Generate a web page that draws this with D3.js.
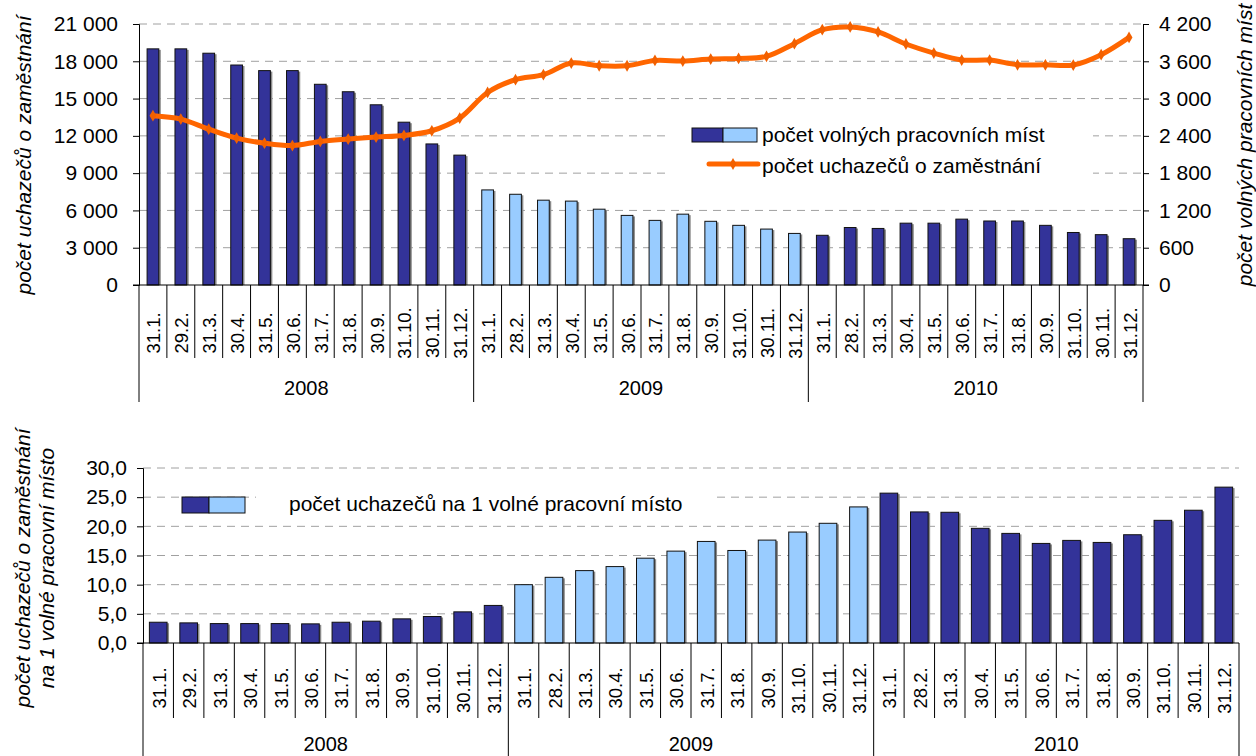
<!doctype html><html><head><meta charset="utf-8">
<style>body{margin:0;background:#fff} text{font-family:"Liberation Sans",Arial,sans-serif;fill:#000}</style>
</head><body><script src='https://d3js.org/d3.v7.min.js'></script>

<script>
// data
const years  = ["2008", "2009", "2010"];
const days08 = ["31.1.","29.2.","31.3.","30.4.","31.5.","30.6.","31.7.","31.8.","30.9.","31.10.","30.11.","31.12."];
const days   = ["31.1.","28.2.","31.3.","30.4.","31.5.","30.6.","31.7.","31.8.","30.9.","31.10.","30.11.","31.12."];

// počet volných pracovních míst (right axis)
const vacancies = [3800, 3800, 3730, 3540, 3450, 3450, 3230, 3110, 2900, 2620, 2270, 2090,
                   1530, 1460, 1365, 1350, 1220, 1120, 1040, 1140, 1025, 960, 900, 830,
                   800, 925, 910, 995, 995, 1060, 1030, 1030, 960, 845, 810, 745];
// počet uchazečů o zaměstnání (left axis)
const seekers   = [13620, 13350, 12540, 11820, 11410, 11220, 11550, 11740, 11900, 12030, 12410, 13430,
                   15490, 16520, 16920, 17860, 17640, 17640, 18070, 18020, 18180, 18230, 18400, 19420,
                   20540, 20760, 20360, 19390, 18660, 18100, 18100, 17720, 17720, 17700, 18530, 19920];
// počet uchazečů na 1 volné pracovní místo
const ratio     = [3.56, 3.45, 3.33, 3.33, 3.33, 3.28, 3.56, 3.74, 4.14, 4.54, 5.34, 6.44,
                   10.0, 11.26, 12.41, 13.1, 14.54, 15.75, 17.41, 15.86, 17.64, 19.02, 20.52, 23.33,
                   25.69, 22.47, 22.41, 19.66, 18.79, 17.07, 17.59, 17.24, 18.56, 21.03, 22.76, 26.72];

const leftTicks  = [0, 3000, 6000, 9000, 12000, 15000, 18000, 21000];
const rightTicks = [0, 600, 1200, 1800, 2400, 3000, 3600, 4200];
const ratioTicks = [0, 5, 10, 15, 20, 25, 30];

const labels = days08.concat(days, days);
const idx = d3.range(labels.length);

const dark = "#333399", light = "#99ccff", orange = "#ff6600";
const barColor = i => (i >= 12 && i < 24) ? light : dark;
const fs = 21;

const cz = d3.formatLocale({decimal: ",", thousands: "\u00a0", grouping: [3], currency: ["", ""]});
const fmtInt = cz.format(",");
const fmtDec = cz.format(",.1f");

const svg = d3.select("body").append("svg")
              .attr("width", 1256).attr("height", 756);

// ---------- top chart ----------
const x1 = d3.scaleBand().domain(idx).range([139, 1143]).paddingInner(0.58).paddingOuter(0.29);
const yL = d3.scaleLinear().domain([0, 21000]).range([285, 24]);
const yR = d3.scaleLinear().domain([0, 4200]).range([285, 24]);
const step1 = x1.step();

// grid
svg.append("g").selectAll("line").data(leftTicks.slice(1)).join("line")
   .attr("x1", 139).attr("x2", 1143)
   .attr("y1", d => yL(d)).attr("y2", d => yL(d))
   .attr("stroke", "#a0a0a0").attr("stroke-dasharray", "8,6");

// legend background hides grid
svg.append("rect").attr("x", 665).attr("y", 115).attr("width", 428).attr("height", 76).attr("fill", "#fff");

// bars
svg.append("g").selectAll("rect").data(idx).join("rect")
   .attr("x", i => x1(i) + 2).attr("y", i => yR(vacancies[i]) + 1)
   .attr("width", x1.bandwidth()).attr("height", i => yR(0) - yR(vacancies[i]) - 1)
   .attr("fill", "#8a8a8a");
svg.append("g").selectAll("rect").data(idx).join("rect")
   .attr("x", i => x1(i)).attr("y", i => yR(vacancies[i]))
   .attr("width", x1.bandwidth()).attr("height", i => yR(0) - yR(vacancies[i]))
   .attr("fill", i => barColor(i)).attr("stroke", "#111").attr("stroke-width", 1);

// line
const line = d3.line()
               .x(i => x1(i) + x1.bandwidth() / 2)
               .y(i => yL(seekers[i]))
               .curve(d3.curveCatmullRom.alpha(0.5));
svg.append("path").datum(idx)
   .attr("fill", "none").attr("stroke", orange).attr("stroke-width", 5)
   .attr("stroke-linejoin", "round").attr("d", line);
svg.append("g").selectAll("path").data(idx).join("path")
   .attr("transform", i => `translate(${x1(i) + x1.bandwidth() / 2},${yL(seekers[i])})`)
   .attr("d", d3.symbol(d3.symbolDiamond, 40)).attr("fill", "#f26000");

// axes
const axL = svg.append("g").attr("transform", "translate(139,0)")
   .call(d3.axisLeft(yL).tickValues(leftTicks).tickFormat(fmtInt).tickSizeOuter(0).tickSize(6).tickPadding(15));
const axR = svg.append("g").attr("transform", "translate(1143,0)")
   .call(d3.axisRight(yR).tickValues(rightTicks).tickFormat(fmtInt).tickSizeOuter(0).tickSize(6).tickPadding(10));
[axL, axR].forEach(a => {
  a.selectAll("text").attr("font-size", fs).attr("font-family", "Liberation Sans, Arial");
  a.selectAll("line, path").attr("stroke", "#000");
});

// category axis
svg.append("line").attr("x1", 133).attr("x2", 1149).attr("y1", 285).attr("y2", 285).attr("stroke", "#000");
svg.append("g").selectAll("line").data(d3.range(labels.length + 1)).join("line")
   .attr("x1", k => x1.range()[0] + k * step1).attr("x2", k => x1.range()[0] + k * step1)
   .attr("y1", 285).attr("y2", k => k % 12 === 0 ? 402 : 358)
   .attr("stroke", "#000");
svg.append("g").selectAll("text").data(idx).join("text")
   .attr("transform", i => `translate(${x1(i) + x1.bandwidth() / 2 + 1},333) rotate(-90)`)
   .attr("text-anchor", "middle").attr("dominant-baseline", "central")
   .attr("font-size", 18.5).text(i => labels[i]);
svg.append("g").selectAll("text").data(years).join("text")
   .attr("x", (d, j) => x1.range()[0] + (j * 12 + 6) * step1).attr("y", 395)
   .attr("text-anchor", "middle").attr("font-size", 20).text(d => d);

// axis titles
svg.append("text").attr("transform", "translate(31,155) rotate(-90)")
   .attr("text-anchor", "middle").attr("font-size", fs).attr("font-style", "italic")
   .text("počet uchazečů o zaměstnání");
svg.append("text").attr("transform", "translate(1252,145) rotate(-90)")
   .attr("text-anchor", "middle").attr("font-size", fs).attr("font-style", "italic")
   .text("počet volných pracovních míst");

// legend
svg.append("rect").attr("x", 692).attr("y", 128).attr("width", 31).attr("height", 14).attr("fill", dark).attr("stroke", "#111");
svg.append("rect").attr("x", 723).attr("y", 128).attr("width", 34).attr("height", 14).attr("fill", light).attr("stroke", "#111");
svg.append("text").attr("x", 762).attr("y", 142).attr("font-size", fs).text("počet volných pracovních míst");
svg.append("line").attr("x1", 709).attr("x2", 758).attr("y1", 164).attr("y2", 164)
   .attr("stroke", orange).attr("stroke-width", 5).attr("stroke-linecap", "round");
svg.append("path").attr("transform", "translate(733,164)").attr("d", d3.symbol(d3.symbolDiamond, 40)).attr("fill", "#f26000");
svg.append("text").attr("x", 762).attr("y", 173).attr("font-size", fs).text("počet uchazečů o zaměstnání");

// ---------- bottom chart ----------
const x2 = d3.scaleBand().domain(idx).range([143, 1239]).paddingInner(0.42).paddingOuter(0.21);
const y2 = d3.scaleLinear().domain([0, 30]).range([643, 468]);
const step2 = x2.step();

svg.append("g").selectAll("line").data(ratioTicks.slice(1)).join("line")
   .attr("x1", 143).attr("x2", 1239)
   .attr("y1", d => y2(d)).attr("y2", d => y2(d))
   .attr("stroke", "#a0a0a0").attr("stroke-dasharray", "8,6");

svg.append("rect").attr("x", 256).attr("y", 490).attr("width", 459).attr("height", 30).attr("fill", "#fff");

svg.append("g").selectAll("rect").data(idx).join("rect")
   .attr("x", i => x2(i) + 2).attr("y", i => y2(ratio[i]) + 1)
   .attr("width", x2.bandwidth()).attr("height", i => y2(0) - y2(ratio[i]) - 1)
   .attr("fill", "#8a8a8a");
svg.append("g").selectAll("rect").data(idx).join("rect")
   .attr("x", i => x2(i)).attr("y", i => y2(ratio[i]))
   .attr("width", x2.bandwidth()).attr("height", i => y2(0) - y2(ratio[i]))
   .attr("fill", i => barColor(i)).attr("stroke", "#111").attr("stroke-width", 1);

const axB = svg.append("g").attr("transform", "translate(143,0)")
   .call(d3.axisLeft(y2).tickValues(ratioTicks).tickFormat(fmtDec).tickSizeOuter(0).tickSize(6).tickPadding(10));
axB.selectAll("text").attr("font-size", fs).attr("font-family", "Liberation Sans, Arial");
axB.selectAll("line, path").attr("stroke", "#000");

svg.append("line").attr("x1", 137).attr("x2", 1239).attr("y1", 643).attr("y2", 643).attr("stroke", "#000");
svg.append("g").selectAll("line").data(d3.range(labels.length + 1)).join("line")
   .attr("x1", k => x2.range()[0] + k * step2).attr("x2", k => x2.range()[0] + k * step2)
   .attr("y1", 643).attr("y2", k => k % 12 === 0 ? 760 : 718)
   .attr("stroke", "#000");
svg.append("g").selectAll("text").data(idx).join("text")
   .attr("transform", i => `translate(${x2(i) + x2.bandwidth() / 2 + 1},688) rotate(-90)`)
   .attr("text-anchor", "middle").attr("dominant-baseline", "central")
   .attr("font-size", 18.5).text(i => labels[i]);
svg.append("g").selectAll("text").data(years).join("text")
   .attr("x", (d, j) => x2.range()[0] + (j * 12 + 6) * step2).attr("y", 751)
   .attr("text-anchor", "middle").attr("font-size", 20).text(d => d);

const t2 = svg.append("text").attr("transform", "translate(0,568) rotate(-90)")
   .attr("text-anchor", "middle").attr("font-size", fs).attr("font-style", "italic");
t2.append("tspan").attr("x", 0).attr("y", 30).text("počet uchazečů o zaměstnání");
t2.append("tspan").attr("x", 0).attr("y", 54).text("na 1 volné pracovní místo");

svg.append("rect").attr("x", 182).attr("y", 497).attr("width", 27).attr("height", 16).attr("fill", dark).attr("stroke", "#111");
svg.append("rect").attr("x", 209).attr("y", 497).attr("width", 36).attr("height", 16).attr("fill", light).attr("stroke", "#111");
svg.append("text").attr("x", 289).attr("y", 511).attr("font-size", fs).text("počet uchazečů na 1 volné pracovní místo");
</script></body></html>
